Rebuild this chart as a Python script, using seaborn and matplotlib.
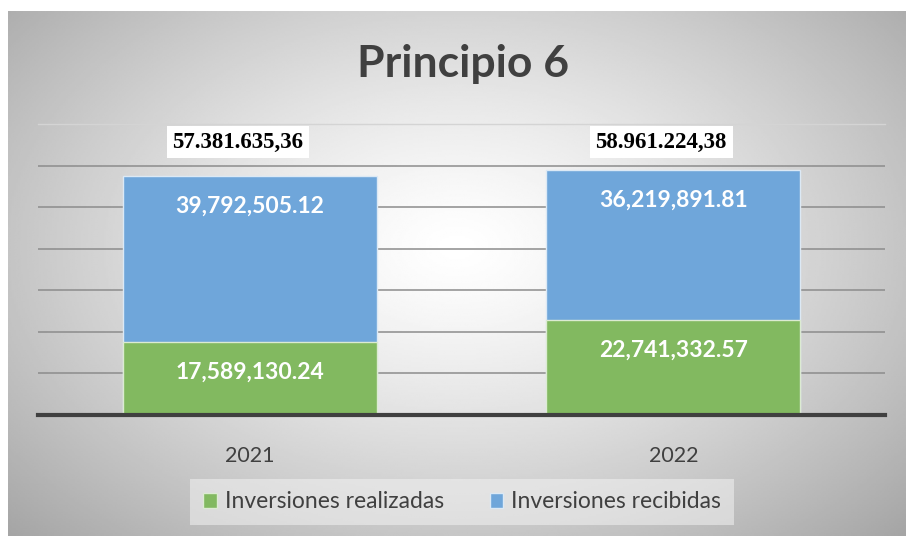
import numpy as np
import pandas as pd
import matplotlib
matplotlib.use("Agg")
import matplotlib.pyplot as plt
import seaborn as sns
from matplotlib.patches import Patch
from matplotlib.transforms import blended_transform_factory

# datos
anios = ['2021', '2022']
realizadas = [17589130.24, 22741332.57]
recibidas = [39792505.12, 36219891.81]
nombres = ['Inversiones realizadas', 'Inversiones recibidas']

verde = '#82b960'
azul = '#6fa6da'
gris_txt = '#404040'

sns.set_theme(style="white")
plt.rcParams['font.family'] = ['Lato', 'DejaVu Sans']

df = pd.DataFrame({'anio': anios, 'realizadas': realizadas, 'recibidas': recibidas})
df['total'] = df['realizadas'] + df['recibidas']

fig = plt.figure(figsize=(9.06, 5.36), dpi=100)
fig.patch.set_facecolor('white')

# fondo degradado radial
bg = fig.add_axes([8 / 906, 0, 898 / 906, 525 / 536])
yy, xx = np.mgrid[0:1:300j, 0:1:500j]
d = np.sqrt(((xx - 0.5) / 0.55) ** 2 + ((yy - 0.45) / 0.62) ** 2)
grad = np.clip(1 - 0.26 * d ** 1.3, 0, 1)
bg.imshow(grad, cmap='gray', vmin=0, vmax=1, aspect='auto', origin='upper',
          extent=[0, 1, 0, 1])
bg.set_axis_off()

ax = fig.add_axes([38 / 906, 121 / 536, 847 / 906, 291 / 536])
ax.set_facecolor('none')

# barras apiladas: total (azul) y encima la parte realizada (verde)
sns.barplot(data=df, x='anio', y='total', color=azul, width=0.6, ax=ax,
            saturation=1, edgecolor='#dce9f5', linewidth=1)
sns.barplot(data=df, x='anio', y='realizadas', color=verde, width=0.6, ax=ax,
            saturation=1, edgecolor='#dcebd2', linewidth=1)

ax.set_ylim(0, 70e6)
ax.set_xlim(-0.5, 1.5)
ax.set_yticks(np.arange(10e6, 70e6, 10e6))
ax.yaxis.grid(True, color='#8c8c8c', linewidth=1.1)
ax.set_axisbelow(True)
ax.tick_params(axis='y', left=False, labelleft=False)
ax.tick_params(axis='x', bottom=False, labelsize=15.5, labelcolor=gris_txt, pad=16)
ax.set_xlabel('')
ax.set_ylabel('')
for s in ['left', 'right']:
    ax.spines[s].set_visible(False)
ax.spines['top'].set_color('#d4d4d4')
ax.spines['top'].set_linewidth(1)
ax.spines['bottom'].set_color('#404040')
ax.spines['bottom'].set_linewidth(3)

# etiquetas dentro de las barras
for i, row in df.iterrows():
    ax.annotate(f"{row['realizadas']:,.2f}", (i, row['realizadas']),
                xytext=(0, -30), textcoords='offset pixels', ha='center', va='center',
                color='white', fontsize=16.5, fontweight='bold')
    ax.annotate(f"{row['recibidas']:,.2f}", (i, row['total']),
                xytext=(0, -30), textcoords='offset pixels', ha='center', va='center',
                color='white', fontsize=16.5, fontweight='bold')

# totales en formato europeo
tr = blended_transform_factory(ax.transData, ax.transAxes)
for i, row in df.iterrows():
    txt = f"{row['total']:,.2f}".replace(',', '#').replace('.', ',').replace('#', '.')
    ax.annotate(txt, (i, 0.938), xycoords=tr, xytext=(-12, 0), textcoords='offset pixels',
                ha='center', va='center', fontsize=16.5, fontweight='bold',
                family=['Liberation Serif', 'DejaVu Serif'], color='black',
                bbox=dict(boxstyle='square,pad=0.25', facecolor='white', edgecolor='none'))

fig.text(463 / 906, 1 - 64 / 536, 'Principio 6', ha='center', va='center',
         fontsize=32, fontweight='bold', color=gris_txt)

handles = [Patch(facecolor=verde, edgecolor='#dcebd2'), Patch(facecolor=azul, edgecolor='#dce9f5')]
leg = fig.legend(handles, nombres, loc='center', bbox_to_anchor=(462 / 906, 1 - 502 / 536),
                 ncol=2, frameon=True, fontsize=16.5, handlelength=0.6, handleheight=0.6,
                 handletextpad=0.35, columnspacing=2.0, borderpad=0.55, fancybox=False,
                 labelcolor=gris_txt)
leg.get_frame().set_facecolor('#f2f2f2')
leg.get_frame().set_alpha(0.55)
leg.get_frame().set_edgecolor('none')

fig.savefig('out.png', dpi=100)
